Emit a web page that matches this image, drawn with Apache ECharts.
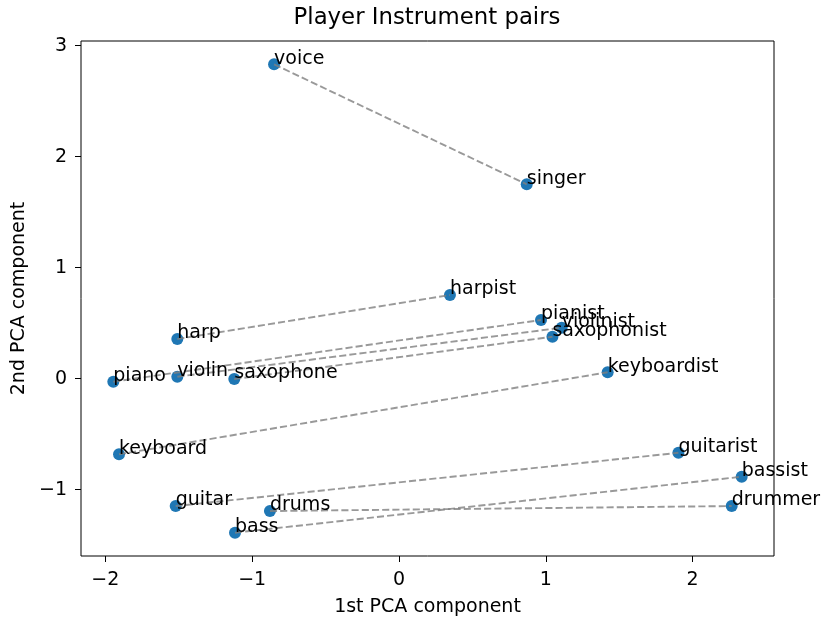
<!DOCTYPE html>
<html>
<head>
<meta charset="utf-8">
<script src="https://cdn.jsdelivr.net/npm/echarts@6/dist/echarts.min.js"></script>
<style>html,body{margin:0;padding:0;background:#fff}#c{width:824px;height:619px}</style>
</head>
<body>
<div id="c"></div>
<script>
// Instruments (first of each pair) and players (second of each pair)
const instrumentNames = ['voice', 'harp', 'piano', 'violin', 'saxophone', 'keyboard', 'guitar', 'bass', 'drums'];
const instrumentX = [-0.851, -1.510, -1.946, -1.510, -1.122, -1.907, -1.521, -1.117, -0.879];
const instrumentY = [2.832, 0.358, -0.027, 0.018, -0.003, -0.681, -1.147, -1.387, -1.192];
const playerNames = ['singer', 'harpist', 'pianist', 'violinist', 'saxophonist', 'keyboardist', 'guitarist', 'bassist', 'drummer'];
const playerX = [0.870, 0.347, 0.967, 1.108, 1.045, 1.421, 1.903, 2.334, 2.266];
const playerY = [1.751, 0.754, 0.529, 0.459, 0.378, 0.058, -0.667, -0.883, -1.147];
const xTicks = [-2, -1, 0, 1, 2];
const yTicks = [-1, 0, 1, 2, 3];

const FONT = 'DejaVu Sans';
const fmt = v => (v < 0 ? '\u2212' + Math.abs(v) : String(v));

const points = [];
instrumentNames.forEach((n, i) => points.push({ name: n, value: [instrumentX[i], instrumentY[i]] }));
playerNames.forEach((n, i) => points.push({ name: n, value: [playerX[i], playerY[i]] }));

const lineSeries = instrumentNames.map((n, i) => ({
  type: 'line',
  silent: true,
  symbol: 'none',
  z: 3,
  animation: false,
  lineStyle: { color: 'rgba(128,128,128,0.8)', width: 1.9, type: [7.1, 3.1] },
  data: [[instrumentX[i], instrumentY[i]], [playerX[i], playerY[i]]]
}));

const chart = echarts.init(document.getElementById('c'));
chart.setOption({
  animation: false,
  backgroundColor: '#fff',
  title: {
    text: 'Player Instrument pairs',
    left: 427, textAlign: 'center', top: 7, padding: 0,
    textStyle: { fontFamily: FONT, fontSize: 22.8, fontWeight: 'normal', color: '#000' }
  },
  grid: { left: 81, right: 50, top: 41, bottom: 63, show: true, borderColor: '#000', borderWidth: 1, containLabel: false, outerBoundsMode: 'none' },
  xAxis: {
    type: 'value', min: -2.166, max: 2.554,
    name: '1st PCA component', nameLocation: 'middle', nameGap: 42,
    nameTextStyle: { fontFamily: FONT, fontSize: 19, color: '#000' },
    axisLine: { show: false, onZero: false },
    axisTick: { show: true, length: 6, lineStyle: { color: '#000', width: 1 }, customValues: xTicks },
    axisLabel: { fontFamily: FONT, fontSize: 19, color: '#000', margin: 15, customValues: xTicks, formatter: fmt },
    splitLine: { show: false }
  },
  yAxis: {
    type: 'value', min: -1.597, max: 3.042,
    name: '2nd PCA component', nameLocation: 'middle', nameGap: 50,
    nameTextStyle: { fontFamily: FONT, fontSize: 19, color: '#000' },
    axisLine: { show: false, onZero: false },
    axisTick: { show: true, length: 6, lineStyle: { color: '#000', width: 1 }, customValues: yTicks },
    axisLabel: { fontFamily: FONT, fontSize: 19, color: '#000', margin: 14, customValues: yTicks, formatter: fmt },
    splitLine: { show: false }
  },
  series: [
    {
      type: 'scatter', z: 2, silent: true, symbolSize: 12,
      itemStyle: { color: '#1f77b4', opacity: 1 },
      data: points
    },
    ...lineSeries,
    {
      type: 'scatter', z: 4, silent: true, symbolSize: 12,
      itemStyle: { color: 'rgba(0,0,0,0)' },
      label: {
        show: true, position: [6, 10], align: 'left', verticalAlign: 'bottom',
        fontFamily: FONT, fontSize: 19, color: '#000', opacity: 1, textBorderWidth: 0,
        formatter: p => p.name
      },
      data: points
    }
  ]
});
</script>
</body>
</html>
